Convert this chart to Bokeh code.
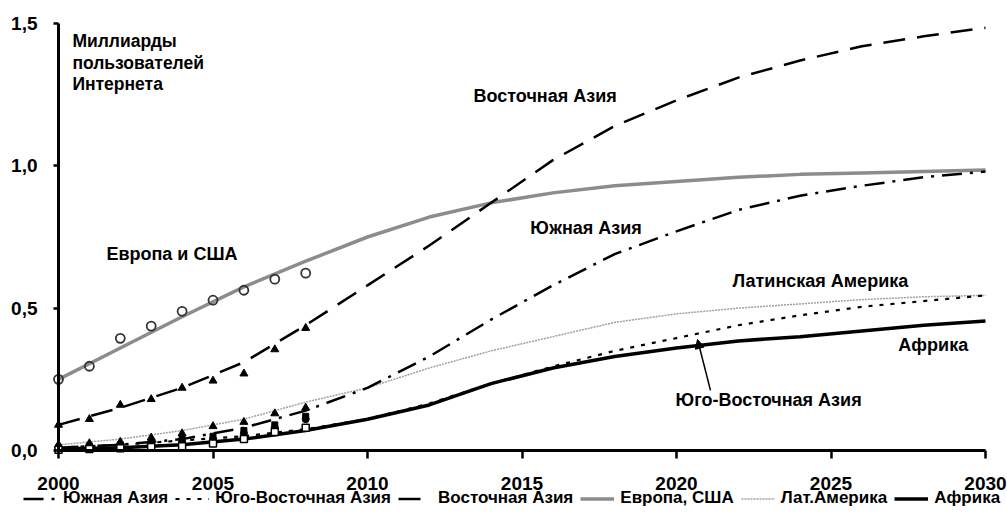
from bokeh.plotting import figure
from bokeh.models import (Range1d, FixedTicker, Label, Legend, LegendItem,
                          Arrow, NormalHead)
from bokeh.embed import file_html
from bokeh.resources import INLINE

# ---------------- data ----------------
years = [2000, 2002, 2004, 2006, 2008, 2010, 2012, 2014, 2016, 2018,
         2020, 2022, 2024, 2026, 2028, 2030]
south_asia = [0.01, 0.02, 0.04, 0.08, 0.14, 0.22, 0.33, 0.46, 0.58, 0.69,
              0.77, 0.845, 0.895, 0.93, 0.96, 0.98]
southeast_asia = [0.01, 0.02, 0.035, 0.05, 0.075, 0.11, 0.165, 0.235, 0.295, 0.35,
                  0.395, 0.44, 0.475, 0.505, 0.525, 0.545]
east_asia = [0.09, 0.15, 0.22, 0.31, 0.44, 0.58, 0.72, 0.87, 1.02, 1.14,
             1.23, 1.31, 1.37, 1.42, 1.455, 1.485]
europe_usa = [0.25, 0.36, 0.47, 0.575, 0.665, 0.75, 0.82, 0.87, 0.905, 0.93,
              0.945, 0.96, 0.97, 0.975, 0.98, 0.985]
latin_america = [0.02, 0.04, 0.07, 0.11, 0.17, 0.22, 0.29, 0.35, 0.40, 0.45,
                 0.48, 0.50, 0.515, 0.53, 0.54, 0.545]
africa = [0.005, 0.01, 0.02, 0.04, 0.07, 0.11, 0.16, 0.235, 0.29, 0.33,
          0.36, 0.385, 0.40, 0.42, 0.44, 0.455]

obs_years = [2000, 2001, 2002, 2003, 2004, 2005, 2006, 2007, 2008]
europe_obs = [0.25, 0.296, 0.394, 0.437, 0.489, 0.528, 0.563, 0.602, 0.623]
east_obs = [0.09, 0.11, 0.16, 0.18, 0.22, 0.245, 0.27, 0.355, 0.43]
latin_obs = [0.02, 0.025, 0.03, 0.045, 0.06, 0.085, 0.10, 0.13, 0.15]
south_obs = [0.005, 0.008, 0.012, 0.02, 0.03, 0.04, 0.06, 0.08, 0.11]
southeast_obs = [0.01, 0.015, 0.02, 0.03, 0.04, 0.05, 0.07, 0.09, 0.12]
africa_obs = [0.003, 0.005, 0.008, 0.012, 0.015, 0.025, 0.04, 0.065, 0.08]

x_ticks = [2000, 2005, 2010, 2015, 2020, 2025, 2030]
y_ticks = [0, 0.5, 1.0, 1.5]
y_tick_labels = ["0,0", "0,5", "1,0", "1,5"]

legend_labels = ["Южная Азия", "Юго-Восточная Азия", "Восточная Азия",
                 "Европа, США", "Лат.Америка", "Африка"]
axis_title = ["Миллиарды", "пользователей", "Интернета"]

FONT = "Liberation Sans"

# ---------------- layout geometry (pixels) ----------------
W, H = 1007, 517
PLOT_L, PLOT_R, PLOT_T, PLOT_B = 58, 985, 23, 450   # where 2000/2030 and 1.5/0 sit
X0, X1, Y0, Y1 = 2000, 2030, 0.0, 1.5
xs = (X1 - X0) / (PLOT_R - PLOT_L)
ys = (Y1 - Y0) / (PLOT_B - PLOT_T)
x_range = Range1d(X0 - PLOT_L * xs, X1 + (W - PLOT_R) * xs)
y_range = Range1d(Y0 - (H - PLOT_B) * ys, Y1 + PLOT_T * ys)

p = figure(width=W, height=H, output_backend="svg", toolbar_location=None,
           x_range=x_range, y_range=y_range, title=None, min_border=0)
p.outline_line_color = None
p.xgrid.grid_line_color = None
p.ygrid.grid_line_color = None
p.background_fill_color = "white"
p.border_fill_color = "white"

for ax in (p.xaxis, p.yaxis):
    ax.axis_line_width = 3
    ax.axis_line_color = "black"
    ax.major_tick_line_width = 2.5
    ax.major_tick_line_color = "black"
    ax.minor_tick_line_color = None
    ax.major_tick_in = 0
    ax.major_label_text_font = FONT
    ax.major_label_text_font_style = "bold"
    ax.major_label_text_font_size = "19px"
    ax.major_label_text_color = "black"

p.xaxis.fixed_location = Y0
p.xaxis.bounds = (X0, X1)
p.xaxis.ticker = FixedTicker(ticks=x_ticks)
p.xaxis.major_tick_out = 8
p.xaxis.major_label_standoff = 18
p.yaxis.fixed_location = X0
p.yaxis.bounds = (Y0, Y1)
p.yaxis.ticker = FixedTicker(ticks=y_ticks)
p.yaxis.major_label_overrides = dict(zip(y_ticks, y_tick_labels))
p.yaxis.major_tick_out = 5
p.yaxis.major_label_standoff = 16

# ---------------- lines ----------------
r_la = p.line(years, latin_america, line_color="#a0a0a0", line_width=1.5,
              line_dash="2 1")
r_eu = p.line(years, europe_usa, line_color="#8c8c8c", line_width=3.5)
r_af = p.line(years, africa, line_color="black", line_width=3.5)
r_sea = p.line(years, southeast_asia, line_color="black", line_width=2.2,
               line_dash="4 7")
r_sa = p.line(years, south_asia, line_color="black", line_width=2.5,
              line_dash="20 8 3 8")
r_ea = p.line(years, east_asia, line_color="black", line_width=2.5,
              line_dash="22 12")

# ---------------- observed points ----------------
p.scatter(obs_years, europe_obs, marker="circle", size=9, fill_color=None,
          line_color="#333333", line_width=1.8)
p.scatter(obs_years, east_obs, marker="triangle", size=8, fill_color="black",
          line_color="black")
p.scatter(obs_years, latin_obs, marker="triangle", size=8, fill_color="black",
          line_color="black")
p.scatter(obs_years, south_obs, marker="circle", size=7, fill_color="black",
          line_color="black")
p.scatter(obs_years, southeast_obs, marker="square", size=6, fill_color="black",
          line_color="black")
p.scatter(obs_years, africa_obs, marker="square", size=7, fill_color="white",
          line_color="black", line_width=1.5)


def add_label(x, y, text, size="18px", baseline="middle"):
    p.add_layout(Label(x=x, y=y, text=text, text_font=FONT,
                       text_font_style="bold", text_font_size=size,
                       text_color="black", text_align="left",
                       text_baseline=baseline))


add_label(2013.43, 1.247, "Восточная Азия")
add_label(2001.55, 0.692, "Европа и США")
add_label(2015.27, 0.78, "Южная Азия")
add_label(2021.81, 0.594, "Латинская Америка")
add_label(2027.18, 0.369, "Африка")
add_label(2019.97, 0.176, "Юго-Восточная Азия")
for yy, t in zip([1.475, 1.398, 1.322], axis_title):
    add_label(2000.45, yy, t, size="17.5px", baseline="top")

p.add_layout(Arrow(end=NormalHead(size=9, fill_color="black", line_color="black"),
                   x_start=2021.1, y_start=0.211, x_end=2020.68, y_end=0.39,
                   line_width=1.5, line_color="black"))

# ---------------- legend ----------------
legend = Legend(items=[LegendItem(label=l, renderers=[r]) for l, r in
                       zip(legend_labels, [r_sa, r_sea, r_ea, r_eu, r_la, r_af])],
                orientation="horizontal", location=(23, 9),
                label_text_font=FONT, label_text_font_style="bold",
                label_text_font_size="17px", label_text_color="black",
                glyph_width=34, glyph_height=15, label_height=17,
                label_standoff=6, spacing=7, padding=0, margin=0,
                border_line_color=None, background_fill_alpha=0)
p.add_layout(legend, "center")

open("out.html", "w").write(file_html(p, INLINE))
